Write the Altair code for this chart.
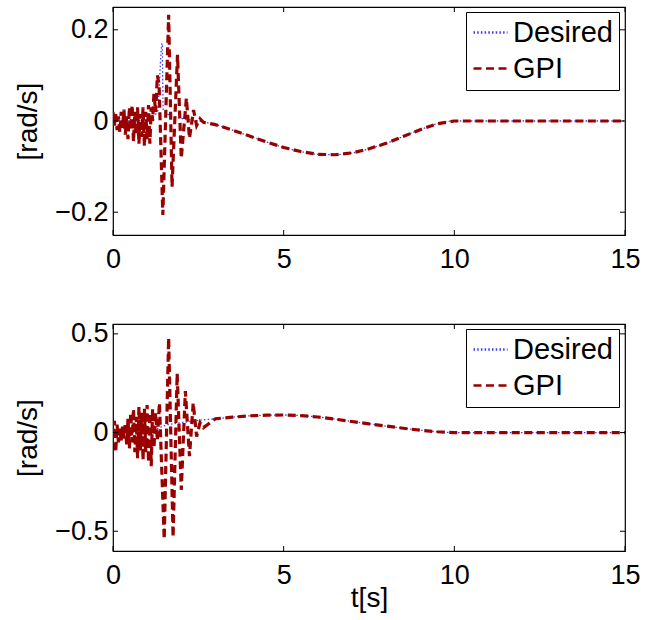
import altair as alt
import pandas as pd

# ---------------- data ----------------
x_ticks = [0, 5, 10, 15]
top_y_ticks = [-0.2, 0, 0.2]
bot_y_ticks = [-0.5, 0, 0.5]

# top panel, desired (blue dotted)
top_des_t = [0, 0.5, 1.0, 1.3, 1.44, 1.47, 1.6, 2.0, 2.5, 3.0, 3.5, 4.0, 4.5, 5.0, 5.5,
             6.0, 6.5, 7.0, 7.5, 8.0, 8.5, 9.0, 9.5, 10.0, 15.0]
top_des_v = [0, 0, 0.002, 0.02, 0.17, 0.025, 0.015, 0.006, 0.0, -0.008, -0.02, -0.033, -0.046,
             -0.058, -0.067, -0.073, -0.074, -0.07, -0.061, -0.049, -0.034, -0.019, -0.006, 0.0, 0.0]

# top panel, GPI (red dashed) transient part
top_gpi_t = [0.00, 0.04, 0.08, 0.12, 0.16, 0.20, 0.24, 0.28, 0.32, 0.36, 0.40, 0.44, 0.48,
             0.52, 0.56, 0.60, 0.64, 0.68, 0.72, 0.76, 0.80, 0.84, 0.88, 0.92, 0.96, 1.00,
             1.04, 1.08, 1.12, 1.16, 1.20, 1.25, 1.30, 1.35, 1.46, 1.63, 1.73, 1.89, 2.00,
             2.15, 2.24, 2.36, 2.45, 2.55, 2.65]
top_gpi_v = [0.02, -0.01, 0.015, -0.02, 0.01, -0.025, 0.02, -0.015, 0.025, -0.03, 0.01, -0.04,
             0.03, -0.02, 0.035, -0.045, 0.02, -0.03, 0.03, -0.05, 0.015, -0.035, 0.03, -0.055,
             0.02, -0.04, 0.035, -0.05, 0.03, 0.0, 0.06, 0.02, 0.1, 0.08, -0.206, 0.233, -0.144,
             0.145, -0.082, 0.05, -0.038, 0.024, -0.01, 0.005, -0.003]

# bottom panel, desired
bot_des_t = [0, 0.5, 1.0, 1.3, 1.5, 2.0, 2.5, 3.0, 3.5, 4.0, 4.5, 5.0, 5.5, 6.0, 6.5, 7.0,
             7.5, 8.0, 8.5, 9.0, 9.5, 10.0, 15.0]
bot_des_v = [0, 0, 0.005, 0.02, 0.035, 0.05, 0.062, 0.07, 0.078, 0.085, 0.088, 0.089, 0.086,
             0.079, 0.068, 0.056, 0.044, 0.033, 0.022, 0.012, 0.004, 0.0, 0.0]

# bottom panel, GPI transient part
bot_gpi_t = [0.00, 0.04, 0.08, 0.12, 0.16, 0.20, 0.24, 0.28, 0.32, 0.36, 0.40, 0.44, 0.48,
             0.52, 0.56, 0.60, 0.64, 0.68, 0.72, 0.76, 0.80, 0.84, 0.88, 0.92, 0.96, 1.00,
             1.04, 1.08, 1.12, 1.16, 1.20, 1.25, 1.30, 1.36, 1.50, 1.63, 1.76, 1.88, 2.00,
             2.12, 2.24, 2.35, 2.45, 2.55, 2.65]
bot_gpi_v = [-0.02, 0.06, -0.1, 0.04, -0.05, 0.02, -0.04, 0.03, -0.03, 0.05, -0.06, 0.07,
             -0.08, 0.1, -0.05, 0.12, -0.1, 0.08, -0.13, 0.13, -0.09, 0.1, -0.14, 0.12, -0.1,
             0.14, -0.15, 0.1, -0.17, 0.12, -0.08, 0.1, -0.04, 0.15, -0.54, 0.48, -0.53, 0.30,
             -0.29, 0.21, -0.12, 0.15, -0.02, 0.05, 0.025]

series_names = ["Desired", "GPI"]
series_colors = ["#3a3aff", "#990000"]

FONT = "Liberation Sans"
W = 512


def panel(des_t, des_v, gpi_t, gpi_v, y_dom, y_ticks, show_xtitle, H, leg_y):
    des = pd.DataFrame({"t": des_t, "v": des_v, "s": "Desired"})
    tail = [(t, v) for t, v in zip(des_t, des_v) if t >= 2.8]
    gpi = pd.DataFrame({"t": list(gpi_t) + [p[0] for p in tail],
                        "v": list(gpi_v) + [p[1] for p in tail], "s": "GPI"})

    xs = alt.Scale(domain=[0, 15], nice=False, zero=False)
    ys = alt.Scale(domain=y_dom, nice=False, zero=False)
    color = alt.Color("s:N", scale=alt.Scale(domain=series_names, range=series_colors),
                      legend=alt.Legend(title=None, orient="none", legendX=353, legendY=leg_y,
                                        direction="vertical"))
    dash = alt.StrokeDash("s:N", scale=alt.Scale(domain=series_names,
                                                 range=[[1.5, 2.2], [8, 4.5]]))
    sw = alt.StrokeWidth("s:N", scale=alt.Scale(domain=series_names, range=[1.3, 3.2]),
                         legend=None)

    xaxis = alt.Axis(values=x_ticks, ticks=False, domain=False, grid=False,
                     labelPadding=11, labelFlush=False,
                     title="t[s]" if show_xtitle else None,
                     titlePadding=-4, format="d")
    yaxis = alt.Axis(values=y_ticks, ticks=False, domain=False, grid=False,
                     labelPadding=5, title="[rad/s]", titlePadding=12,
                     labelExpr="datum.value == 0 ? '0' : format(datum.value, '.1f')")

    l_des = alt.Chart(des).mark_line(interpolate="monotone", clip=True).encode(
        x=alt.X("t:Q", scale=xs, axis=xaxis), y=alt.Y("v:Q", scale=ys, axis=yaxis),
        color=color, strokeDash=dash, strokeWidth=sw)
    l_gpi = alt.Chart(gpi).mark_line(clip=True).encode(
        x=alt.X("t:Q"), y=alt.Y("v:Q"), color=color, strokeDash=dash, strokeWidth=sw)

    xt = pd.DataFrame({"tx": x_ticks})
    yt = pd.DataFrame({"ty": y_ticks})
    tb = alt.Chart(xt).mark_rule(color="black", strokeWidth=1).encode(
        x="tx:Q", y=alt.value(H), y2=alt.value(H - 5))
    tt = alt.Chart(xt).mark_rule(color="black", strokeWidth=1).encode(
        x="tx:Q", y=alt.value(0), y2=alt.value(5))
    tl = alt.Chart(yt).mark_rule(color="black", strokeWidth=1).encode(
        y="ty:Q", x=alt.value(0), x2=alt.value(5))
    tr = alt.Chart(yt).mark_rule(color="black", strokeWidth=1).encode(
        y="ty:Q", x=alt.value(W), x2=alt.value(W - 5))

    return alt.layer(l_des, l_gpi, tb, tt, tl, tr).properties(width=W, height=H)


top = panel(top_des_t, top_des_v, top_gpi_t, top_gpi_v, [-0.25, 0.25], top_y_ticks, False, 228, 5)
bot = panel(bot_des_t, bot_des_v, bot_gpi_t, bot_gpi_v, [-0.6, 0.55], bot_y_ticks, True, 227, 5)

chart = alt.vconcat(top, bot, spacing=46).resolve_legend(
    color="independent", strokeDash="independent"
).properties(
    padding={"left": 14, "top": 5, "right": 10, "bottom": 0}
).configure_view(stroke="black", strokeWidth=1.2).configure_axis(
    labelFont=FONT, labelFontSize=27, labelColor="black",
    titleFont=FONT, titleFontSize=28, titleFontWeight="normal", titleColor="black"
).configure_legend(
    labelFont=FONT, labelFontSize=29, labelColor="black", symbolType="stroke",
    symbolSize=1156, labelOffset=4, padding=6, rowPadding=6, clipHeight=29,
    fillColor="white", strokeColor="black", symbolStrokeWidth=2.5, cornerRadius=0
)

chart.save("out.html", embed_options={"renderer": "svg", "actions": False})
